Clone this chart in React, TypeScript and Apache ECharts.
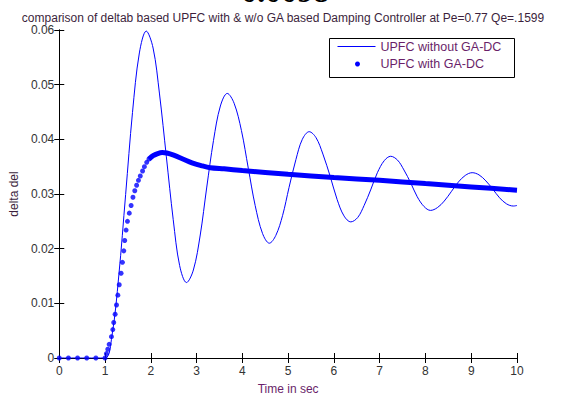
import React, { useEffect, useRef } from "react";
import * as echarts from "echarts";

const titleText = "comparison of deltab based UPFC with & w/o GA based Damping Controller at Pe=0.77 Qe=.1599";
const topCutText = "= 0.0098";
const xTicks = [0, 1, 2, 3, 4, 5, 6, 7, 8, 9, 10];
const yTicks = [0, 0.01, 0.02, 0.03, 0.04, 0.05, 0.06];
const seriesNames = ["UPFC without GA-DC", "UPFC with GA-DC"];

// UPFC without GA-DC: [time, delta]
const withoutGA: number[][] = [
  [0, 0], [0.5, 0], [1.0, 0],
  [1.15, 0.004], [1.3, 0.015], [1.45, 0.0299], [1.6, 0.0449], [1.75, 0.0558], [1.9, 0.0598],
  [2.05, 0.0567], [2.19, 0.0483], [2.34, 0.0368], [2.49, 0.0253], [2.63, 0.0169], [2.78, 0.0138],
  [2.93, 0.0161], [3.08, 0.0225], [3.22, 0.0311], [3.37, 0.0398], [3.52, 0.0461], [3.67, 0.0484],
  [3.82, 0.0466], [3.98, 0.0416], [4.13, 0.0347], [4.28, 0.0279], [4.44, 0.0228], [4.59, 0.021],
  [4.73, 0.0224], [4.88, 0.0261], [5.02, 0.0312], [5.17, 0.0363], [5.31, 0.04], [5.46, 0.0414],
  [5.61, 0.0403], [5.76, 0.0373], [5.92, 0.0332], [6.07, 0.029], [6.22, 0.026], [6.37, 0.0249],
  [6.52, 0.0257], [6.66, 0.0279], [6.81, 0.0309], [6.95, 0.0339], [7.1, 0.0361], [7.24, 0.0369],
  [7.39, 0.0362], [7.53, 0.0344], [7.68, 0.032], [7.82, 0.0295], [7.97, 0.0277], [8.11, 0.027],
  [8.26, 0.0275], [8.41, 0.0287], [8.57, 0.0305], [8.72, 0.0322], [8.87, 0.0334], [9.02, 0.0339],
  [9.17, 0.0335], [9.32, 0.0324], [9.47, 0.0309], [9.62, 0.0293], [9.77, 0.0282], [9.92, 0.0278],
  [10.0, 0.0279],
];

// UPFC with GA-DC, sparse solver steps (drawn as dots)
const withGADots: number[][] = [
  [0, 0], [0.2, 0], [0.4, 0], [0.6, 0], [0.8, 0], [1.0, 0],
  [1.03, 0.0008], [1.06, 0.0016], [1.09, 0.0025], [1.14, 0.0039], [1.17, 0.0052], [1.19, 0.0065],
  [1.22, 0.008], [1.25, 0.0097], [1.28, 0.0115], [1.31, 0.0134], [1.35, 0.0155], [1.38, 0.0175],
  [1.41, 0.0196], [1.43, 0.0215], [1.46, 0.0234], [1.49, 0.025], [1.53, 0.0265], [1.57, 0.0279],
  [1.61, 0.0294], [1.65, 0.0306], [1.69, 0.0316], [1.73, 0.0325], [1.77, 0.0333], [1.82, 0.0342],
  [1.86, 0.035], [1.91, 0.0358], [1.96, 0.0364],
];

// UPFC with GA-DC, dense solver steps (dots merge into a thick band)
const withGADense: number[][] = [
  [1.96, 0.0364], [2.05, 0.037], [2.15, 0.0374], [2.25, 0.0376], [2.35, 0.0375], [2.5, 0.0371],
  [2.7, 0.0364], [2.9, 0.0357], [3.1, 0.0352], [3.3, 0.0348], [3.6, 0.0346], [4.0, 0.0343],
  [5.0, 0.0336], [6.0, 0.033], [7.0, 0.0325], [8.0, 0.0319], [9.0, 0.0313], [10.0, 0.0307],
];

const FONT = "'Liberation Sans', Arial, sans-serif";
const BLUE = "#0000ff";

export default function App() {
  const ref = useRef<HTMLDivElement>(null);
  useEffect(() => {
    if (!ref.current) return;
    const chart = echarts.init(ref.current, undefined, { renderer: "svg" });
    const axisCommon = {
      type: "value" as const,
      axisLine: { show: true, lineStyle: { color: "#000", width: 1 } },
      axisTick: { show: true, inside: true, length: 5, lineStyle: { color: "#000" } },
      splitLine: { show: false },
    };
    chart.setOption({
      animation: false,
      backgroundColor: "#fff",
      textStyle: { fontFamily: FONT },
      title: {
        text: titleText,
        left: "center",
        top: 7,
        textStyle: { fontFamily: FONT, fontSize: 12, fontWeight: "normal", color: "#3c1f3c" },
      },
      grid: { left: 57, right: 49, top: 30, bottom: 35, containLabel: false },
      xAxis: [
        {
          ...axisCommon,
          min: xTicks[0],
          max: xTicks[xTicks.length - 1],
          interval: 1,
          name: "Time in sec",
          nameLocation: "middle",
          nameGap: 25,
          nameTextStyle: { fontFamily: FONT, fontSize: 12, color: "#6a1f6a" },
          axisLabel: { margin: 7, fontFamily: FONT, fontSize: 12, color: "#333" },
        },
        {
          ...axisCommon,
          position: "top",
          min: xTicks[0],
          max: xTicks[xTicks.length - 1],
          interval: 1,
          axisLabel: { show: false },
        },
      ],
      yAxis: [
        {
          ...axisCommon,
          min: yTicks[0],
          max: yTicks[yTicks.length - 1],
          interval: 0.01,
          name: "delta del",
          nameLocation: "middle",
          nameGap: 38,
          nameTextStyle: { fontFamily: FONT, fontSize: 12, color: "#3c1f3c" },
          axisLabel: {
            margin: 5,
            fontFamily: FONT,
            fontSize: 12,
            color: "#333",
            formatter: (v: number) => (v === 0 ? "0" : v.toFixed(2)),
          },
        },
        {
          ...axisCommon,
          position: "right",
          min: yTicks[0],
          max: yTicks[yTicks.length - 1],
          interval: 0.01,
          axisLabel: { show: false },
        },
      ],
      series: [
        {
          name: seriesNames[0],
          type: "line",
          data: withoutGA,
          symbol: "none",
          smooth: 0.35,
          lineStyle: { color: BLUE, width: 1 },
          z: 3,
        },
        {
          name: seriesNames[1],
          type: "line",
          data: withGADense,
          symbol: "none",
          smooth: 0.3,
          lineStyle: { color: BLUE, width: 5 },
          z: 4,
        },
        {
          name: seriesNames[1],
          type: "scatter",
          data: withGADots,
          symbol: "circle",
          symbolSize: 5,
          itemStyle: { color: BLUE },
          z: 5,
        },
      ],
      graphic: [
        {
          type: "text",
          x: 215,
          y: 6.5,
          style: {
            text: topCutText,
            font: "bold 32px 'Liberation Serif', 'Times New Roman', serif",
            fill: "#000",
            verticalAlign: "bottom",
            align: "left",
          },
          z: 10,
        },
        {
          type: "group",
          left: 329,
          top: 38,
          z: 20,
          children: [
            { type: "rect", shape: { x: 0, y: 0, width: 185, height: 39 }, style: { fill: "#fff", stroke: "#000", lineWidth: 1 } },
            { type: "line", shape: { x1: 8, y1: 8, x2: 46, y2: 8 }, style: { stroke: BLUE, lineWidth: 1 } },
            { type: "circle", shape: { cx: 28, cy: 25.5, r: 2.5 }, style: { fill: BLUE } },
            { type: "text", x: 51, y: 8, style: { text: seriesNames[0], font: `12.5px ${FONT}`, fill: "#6a1f6a", verticalAlign: "middle" } },
            { type: "text", x: 51, y: 25.5, style: { text: seriesNames[1], font: `12.5px ${FONT}`, fill: "#6a1f6a", verticalAlign: "middle" } },
          ],
        },
      ],
    });
    return () => chart.dispose();
  }, []);
  return (
    <div
      ref={ref}
      style={{ position: "fixed", left: 0, top: 0, width: 566, height: 400, background: "#fff" }}
    />
  );
}
